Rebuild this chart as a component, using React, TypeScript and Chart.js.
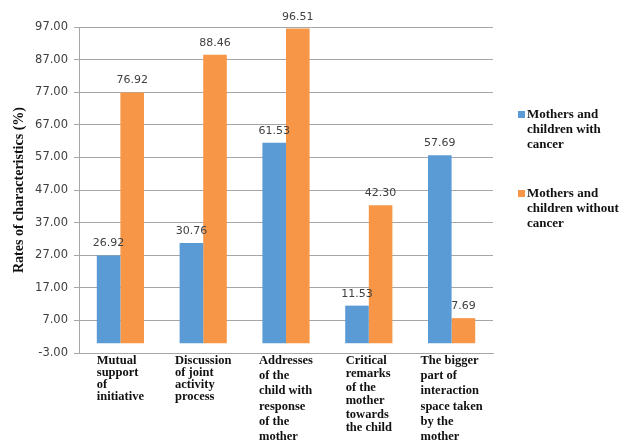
import { useEffect, useRef } from "react";
import { Chart, registerables } from "chart.js";

Chart.register(...registerables);

// ---- Data ----
const categories: string[][] = [
  ["Mutual", "support", "of", "initiative"],
  ["Discussion", "of joint", "activity", "process"],
  ["Addresses", "of the", "child with", "response", "of the", "mother"],
  ["Critical", "remarks", "of the", "mother", "towards", "the child"],
  ["The bigger", "part of", "interaction", "space taken", "by the", "mother"],
];
const withCancer = [26.92, 30.76, 61.53, 11.53, 57.69];
const withoutCancer = [76.92, 88.46, 96.51, 42.3, 7.69];
const seriesNames: string[][] = [
  ["Mothers and", "children with", "cancer"],
  ["Mothers and", "children without", "cancer"],
];
const yAxisTitle = "Rates of characteristics (%)";
const yMin = -3;
const yMax = 97;
const yStep = 10;

// ---- Styles ----
const BLUE = "#5B9BD5";
const ORANGE = "#F79646";
const GRID = "#a6a6a6";
const SERIF = '"Liberation Serif", "Times New Roman", serif';
const SANS = '"DejaVu Sans", Verdana, sans-serif';
const catLineHeights = [12, 12, 15.2, 13.4, 15.2];

const valueLabelPlugin = {
  id: "valueLabels",
  afterDatasetsDraw(chart: any) {
    const ctx = chart.ctx;
    ctx.save();
    ctx.font = `11px ${SANS}`;
    ctx.fillStyle = "#404040";
    ctx.textAlign = "center";
    ctx.textBaseline = "alphabetic";
    chart.data.datasets.forEach((ds: any, di: number) => {
      const meta = chart.getDatasetMeta(di);
      meta.data.forEach((el: any, i: number) => {
        const v = ds.data[i] as number;
        ctx.fillText(v.toFixed(2), el.x, el.y - 9);
      });
    });
    ctx.restore();
  },
};

const categoryLabelPlugin = {
  id: "categoryLabels",
  afterDraw(chart: any) {
    const xs = chart.scales.x;
    const ctx = chart.ctx;
    ctx.save();
    ctx.font = `bold 12.5px ${SERIF}`;
    ctx.fillStyle = "#111";
    ctx.textAlign = "left";
    ctx.textBaseline = "alphabetic";
    categories.forEach((lines, i) => {
      const cx = xs.getPixelForValue(i);
      const w = Math.max(...lines.map((l) => ctx.measureText(l).width));
      const left = cx - w / 2;
      lines.forEach((l, j) => {
        ctx.fillText(l, left, xs.top + 11 + j * catLineHeights[i]);
      });
    });
    ctx.restore();
  },
};

const legendPlugin = {
  id: "sideLegend",
  afterDraw(chart: any) {
    const ctx = chart.ctx;
    const area = chart.chartArea;
    const colors = [BLUE, ORANGE];
    const markerX = area.right + 25;
    const textX = area.right + 34;
    const firstBaselines = [area.top + 91, area.top + 170];
    ctx.save();
    ctx.font = `bold 13px ${SERIF}`;
    ctx.textAlign = "left";
    ctx.textBaseline = "alphabetic";
    seriesNames.forEach((lines, i) => {
      const by = firstBaselines[i];
      ctx.fillStyle = colors[i];
      ctx.fillRect(markerX, by - 7, 7, 7);
      ctx.fillStyle = "#111";
      lines.forEach((l, j) => ctx.fillText(l, textX, by + j * 15));
    });
    ctx.restore();
  },
};

export default function App() {
  const ref = useRef<HTMLCanvasElement | null>(null);

  useEffect(() => {
    if (!ref.current) return;
    const chart = new Chart(ref.current, {
      type: "bar",
      data: {
        labels: categories.map((c) => c.join(" ")),
        datasets: [
          {
            label: seriesNames[0].join(" "),
            data: withCancer,
            backgroundColor: BLUE,
            borderWidth: 0,
            categoryPercentage: 0.57,
            barPercentage: 1,
          },
          {
            label: seriesNames[1].join(" "),
            data: withoutCancer,
            backgroundColor: ORANGE,
            borderWidth: 0,
            categoryPercentage: 0.57,
            barPercentage: 1,
          },
        ],
      },
      options: {
        animation: false,
        responsive: true,
        maintainAspectRatio: false,
        layout: { padding: { left: 0, right: 137, top: 27, bottom: 0 } },
        plugins: {
          legend: { display: false },
          tooltip: { enabled: false },
          title: { display: false },
        },
        scales: {
          x: {
            grid: { display: false },
            border: { display: true, color: GRID, width: 1 },
            ticks: { display: false },
            afterFit: (s: any) => {
              s.height = 89;
            },
          },
          y: {
            min: yMin,
            max: yMax,
            afterBuildTicks: (s: any) => {
              const t = [];
              for (let v = yMin; v <= yMax + 1e-9; v += yStep) t.push({ value: v });
              s.ticks = t;
            },
            grid: { color: GRID, lineWidth: 1, drawTicks: true, tickLength: 5 },
            border: { display: true, color: GRID, width: 1 },
            ticks: {
              font: { family: SANS, size: 11.5 },
              color: "#404040",
              padding: 6,
              callback: (v: any) => Number(v).toFixed(2),
            },
            title: {
              display: true,
              text: yAxisTitle,
              font: { family: SERIF, size: 14, weight: "bold" },
              color: "#111",
              padding: { top: 11, bottom: 0 },
            },
            afterFit: (s: any) => {
              s.width = 79;
            },
          },
        },
      },
      plugins: [valueLabelPlugin, categoryLabelPlugin, legendPlugin],
    });
    return () => chart.destroy();
  }, []);

  return (
    <div style={{ position: "absolute", left: 0, top: 0, width: 630, height: 442, background: "#fff" }}>
      <canvas ref={ref} />
    </div>
  );
}
